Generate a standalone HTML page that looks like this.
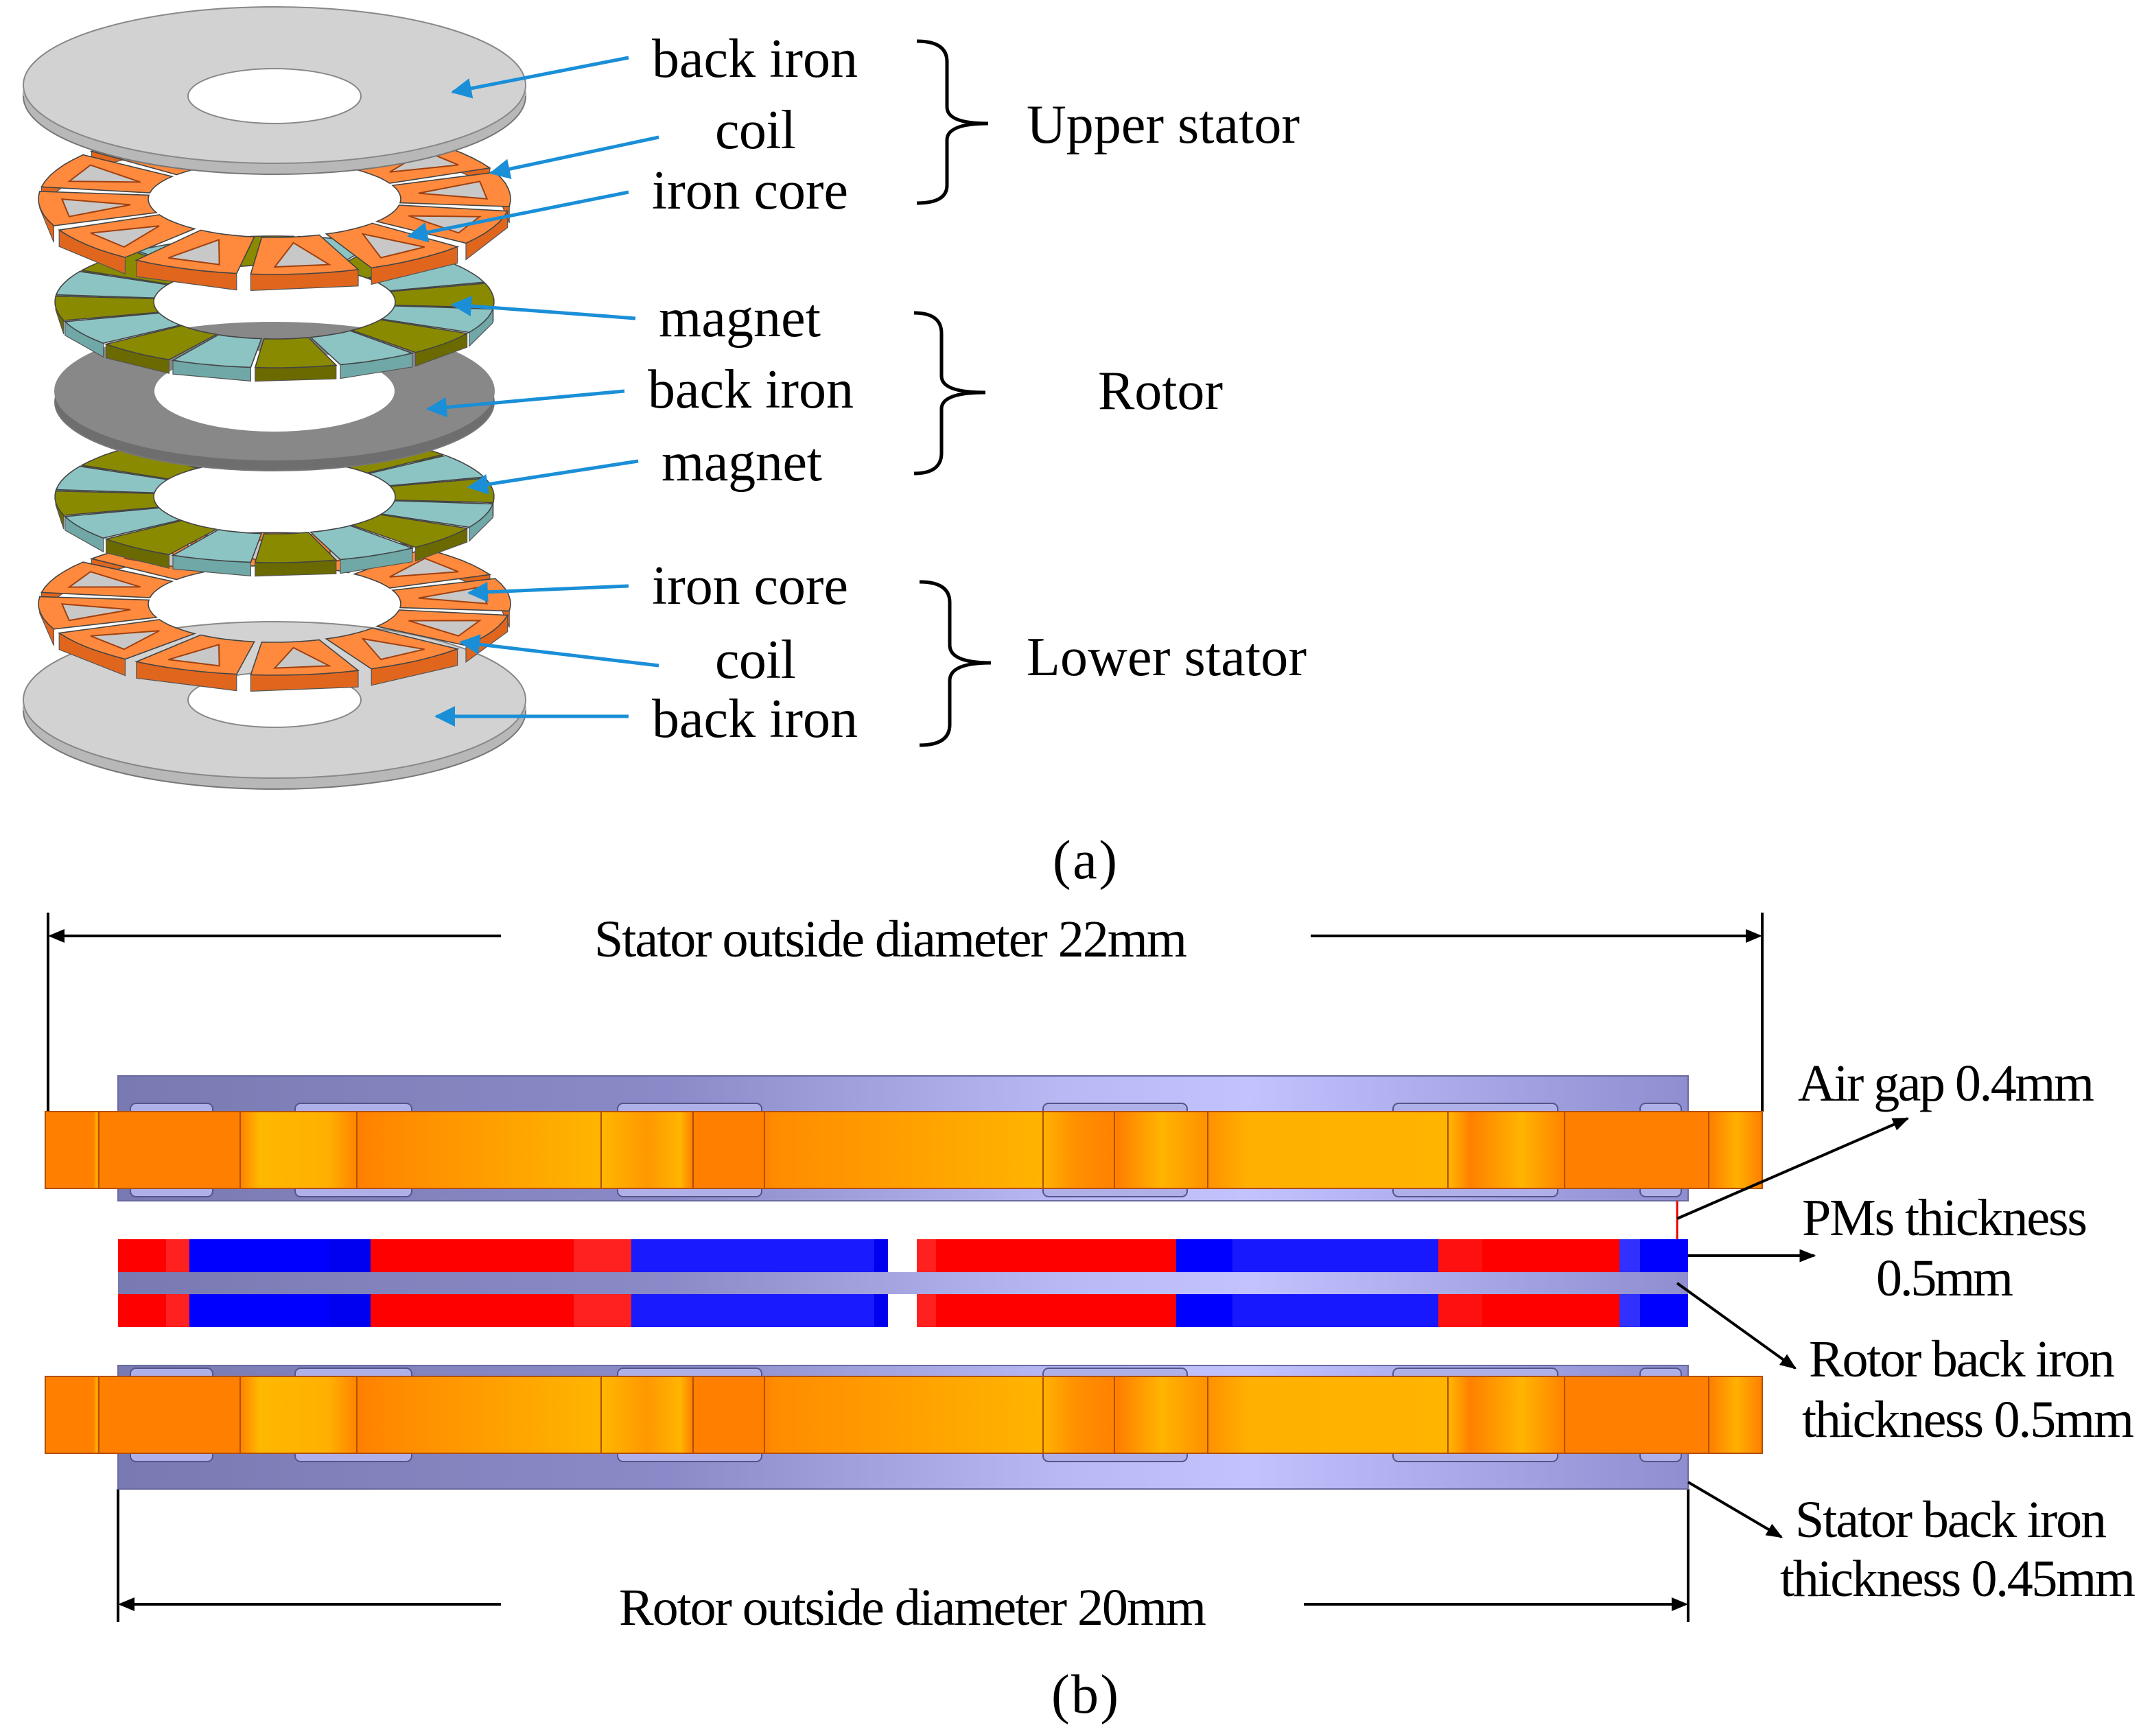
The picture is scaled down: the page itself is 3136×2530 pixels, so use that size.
<!DOCTYPE html>
<html><head><meta charset="utf-8"><style>
html,body{margin:0;padding:0;background:#fff}
svg{display:block}
text{font-family:"Liberation Serif",serif;fill:#000}
</style></head><body>
<svg id="s" width="3136" height="2530" viewBox="0 0 1568 1265" xmlns="http://www.w3.org/2000/svg">
<defs>
<linearGradient id="bi" gradientUnits="userSpaceOnUse" x1="86" y1="0" x2="1230" y2="0">
<stop offset="0" stop-color="#7a7ab2"/><stop offset="0.35" stop-color="#8a8ac8"/><stop offset="0.6" stop-color="#b8b8f4"/><stop offset="0.72" stop-color="#c2c2ff"/><stop offset="1" stop-color="#8e8ed0"/></linearGradient>
<linearGradient id="co" gradientUnits="userSpaceOnUse" x1="33" y1="0" x2="1284" y2="0">
<stop offset="0" stop-color="#ff8000"/><stop offset="0.028" stop-color="#ff8000"/><stop offset="0.03" stop-color="#ffb000"/><stop offset="0.031" stop-color="#ff8000"/>
<stop offset="0.113" stop-color="#ff8000"/><stop offset="0.125" stop-color="#ffb800"/><stop offset="0.165" stop-color="#ffb000"/><stop offset="0.183" stop-color="#ff8000"/>
<stop offset="0.2" stop-color="#ff8a00"/><stop offset="0.325" stop-color="#ffb600"/><stop offset="0.35" stop-color="#ff9800"/><stop offset="0.37" stop-color="#ffb400"/><stop offset="0.377" stop-color="#ff8000"/><stop offset="0.418" stop-color="#ff8000"/>
<stop offset="0.425" stop-color="#ff8c00"/><stop offset="0.58" stop-color="#ffb400"/><stop offset="0.6" stop-color="#ff9000"/><stop offset="0.625" stop-color="#ff8000"/><stop offset="0.65" stop-color="#ffb400"/><stop offset="0.677" stop-color="#ff9000"/>
<stop offset="0.7" stop-color="#ffb000"/><stop offset="0.818" stop-color="#ffb400"/><stop offset="0.83" stop-color="#ff8000"/><stop offset="0.86" stop-color="#ffb400"/><stop offset="0.886" stop-color="#ff8000"/>
<stop offset="0.97" stop-color="#ff8000"/><stop offset="0.985" stop-color="#ffb000"/><stop offset="1" stop-color="#ff8000"/></linearGradient>
<marker id="ab" viewBox="0 0 10 10" refX="9" refY="5" markerWidth="6" markerHeight="6" orient="auto"><path d="M0,0L10,5L0,10z" fill="#1a8fd8"/></marker>
<marker id="ak" viewBox="0 0 10 10" refX="9" refY="5" markerWidth="6" markerHeight="6" orient="auto"><path d="M0,1L10,5L0,9z" fill="#000"/></marker>
</defs>
<g id="a"></g>
<g font-size="40">
<text x="475" y="56" textLength="150">back iron</text><text x="521" y="108" textLength="59">coil</text><text x="475" y="152" textLength="143">iron core</text>
<text x="480" y="245" textLength="118">magnet</text><text x="472" y="297" textLength="150">back iron</text><text x="482" y="350" textLength="117">magnet</text>
<text x="475" y="440" textLength="143">iron core</text><text x="521" y="494" textLength="59">coil</text><text x="475" y="537" textLength="150">back iron</text>
<text x="748" y="104" textLength="199">Upper stator</text><text x="800" y="298" textLength="91">Rotor</text><text x="748" y="492" textLength="204">Lower stator</text>
<text x="767" y="640" textLength="47">(a)</text><text x="766" y="1248" textLength="49">(b)</text>
</g>
<g stroke="#000" stroke-width="2.5" fill="none">
<path d="M668,30 Q690,30 690,45 L690,78 Q690,90 720,90 Q690,90 690,102 L690,135 Q690,148 668,148"/>
<path d="M666,228 Q686,228 686,243 L686,274 Q686,286 718,286 Q686,286 686,298 L686,330 Q686,345 666,345"/>
<path d="M670,424 Q692,424 692,439 L692,470 Q692,483 722,483 Q692,483 692,496 L692,528 Q692,543 670,543"/>
</g>
<g stroke="#1a8fd8" stroke-width="2.5" marker-end="url(#ab)">
<line x1="458" y1="42" x2="330" y2="67"/><line x1="480" y1="100" x2="358" y2="126"/><line x1="458" y1="140" x2="298" y2="172"/>
<line x1="463" y1="232" x2="330" y2="222"/><line x1="455" y1="285" x2="312" y2="298"/><line x1="465" y1="336" x2="342" y2="355"/>
<line x1="458" y1="427" x2="342" y2="432"/><line x1="480" y1="485" x2="336" y2="468"/><line x1="458" y1="522" x2="318" y2="522"/>
</g>
<g stroke="#000" stroke-width="2" fill="none">
<line x1="35" y1="665" x2="35" y2="810"/><line x1="1284" y1="665" x2="1284" y2="810"/>
<line x1="37" y1="682" x2="365" y2="682"/>
<line x1="955" y1="682" x2="1282" y2="682"/>
<line x1="86" y1="1085" x2="86" y2="1182"/><line x1="1230" y1="1085" x2="1230" y2="1182"/>
<line x1="88" y1="1169" x2="365" y2="1169"/><line x1="950" y1="1169" x2="1228" y2="1169"/>
</g>
<g fill="#000">
<path d="M35,682l12,-5v10z"/><path d="M1284,682l-12,-5v10z"/>
<path d="M86,1169l12,-5v10z"/><path d="M1230,1169l-12,-5v10z"/>
</g>
<g font-size="38">
<text x="433" y="697" textLength="432">Stator outside diameter 22mm</text>
<text x="451" y="1184" textLength="428">Rotor outside diameter 20mm</text>
<text x="1310" y="802" textLength="216">Air gap 0.4mm</text>
<text x="1313" y="900" textLength="208">PMs thickness</text><text x="1367" y="944" textLength="100">0.5mm</text>
<text x="1318" y="1003" textLength="223">Rotor back iron</text><text x="1313" y="1047" textLength="242">thickness 0.5mm</text>
<text x="1308" y="1120" textLength="227">Stator back iron</text><text x="1297" y="1163" textLength="259">thickness 0.45mm</text>
</g>
<g id="b"></g>
<line x1="1222" y1="875" x2="1222" y2="903" stroke="#e00" stroke-width="1.5"/>
<g stroke="#000" stroke-width="2" marker-end="url(#ak)">
<line x1="1222" y1="888" x2="1390" y2="815"/><line x1="1230" y1="915" x2="1322" y2="915"/>
<line x1="1222" y1="935" x2="1308" y2="997"/><line x1="1230" y1="1080" x2="1298" y2="1120"/>
</g>
</svg>
<script>
var NS="http://www.w3.org/2000/svg";
function el(p,t,a){var e=document.createElementNS(NS,t);for(var k in a)e.setAttribute(k,a[k]);p.appendChild(e);return e;}
var A=document.getElementById('a'),B=document.getElementById('b');
function pt(cx,cy,R,r,a){return (cx+R*Math.cos(a)).toFixed(1)+","+(cy+r*Math.sin(a)).toFixed(1);}
function disc(cy,R,r,hR,hr,th,fill,side,dy){
 dy=dy||0;
 el(A,'ellipse',{cx:200,cy:cy+th,rx:R,ry:r,fill:side,stroke:"#777","stroke-width":1});
 el(A,'rect',{x:200-R,y:cy,width:2*R,height:th,fill:side});
 el(A,'ellipse',{cx:200,cy:cy,rx:R,ry:r,fill:fill,stroke:"#888","stroke-width":1});
 el(A,'ellipse',{cx:200,cy:cy+dy,rx:hR,ry:hr,fill:"#fff",stroke:"#888","stroke-width":1});
}
function sectors(cy,R,r,iR,ir,n,cols,th,gap,tri){
 var list=[];for(var i=0;i<n;i++){var a0=i*2*Math.PI/n+Math.PI/n*0.5,a1=a0+2*Math.PI/n;list.push([a0,a1,i]);}
 list.sort(function(p,q){return Math.sin((p[0]+p[1])/2)-Math.sin((q[0]+q[1])/2);});
 list.forEach(function(s){
  var a0=s[0]+gap,a1=s[1]-gap,c=cols[s[2]%cols.length];
  var d="M"+pt(200,cy+th,R,r,a0)+" L"+pt(200,cy+th,R,r,a1)+" L"+pt(200,cy,R,r,a1)+" L"+pt(200,cy,R,r,a0)+"Z";
  el(A,'path',{d:d,fill:c[1],stroke:"#555","stroke-width":0.6});
  var pts=[];for(var k=0;k<=6;k++)pts.push(pt(200,cy,R,r,a0+(a1-a0)*k/6));
  for(var k=6;k>=0;k--)pts.push(pt(200,cy,iR,ir,a0+(a1-a0)*k/6));
  el(A,'polygon',{points:pts.join(" "),fill:c[0],stroke:"#444","stroke-width":0.8});
  if(tri){var m=(a1-a0)*0.22;var q=[pt(200,cy,R*0.9,r*0.9,a0+m),pt(200,cy,R*0.9,r*0.9,a1-m),pt(200,cy,iR*1.15,ir*1.15,(a0+a1)/2)];
   el(A,'polygon',{points:q.join(" "),fill:"#c8c8c8",stroke:"#a04010","stroke-width":1});}
 });
}
var mag=[["#8cc4c4","#70a8a8"],["#8a8a00","#6a6a00"]];
var coil=[["#ff8a3d","#e0661e"]];
disc(510,183,57,63,20,8,"#d2d2d2","#b8b8b8");
sectors(440,172,52,92,28,12,coil,12,0.03,true);
sectors(362,160,48,88,27,16,mag,10,0.01,false);
disc(285,160,50,88,30,8,"#888","#6e6e6e");
sectors(220,160,48,88,27,16,mag,10,0.01,false);
sectors(145,172,55,92,28,12,coil,12,0.03,true);
disc(62,183,57,63,20,8,"#d2d2d2","#b8b8b8",8);

function stator(by,bh,cy){
 el(B,'rect',{x:86,y:by,width:1144,height:bh,fill:"url(#bi)",stroke:"#6a6aa0","stroke-width":1});
 [[95,155],[215,300],[450,555],[760,865],[1015,1135],[1195,1225]].forEach(function(s){
  el(B,'rect',{x:s[0],y:cy-6,width:s[1]-s[0],height:68,fill:"#b0b0e8",stroke:"#55558a","stroke-width":1,rx:4});});
 el(B,'rect',{x:33,y:cy,width:1251,height:56,fill:"url(#co)",stroke:"#b05000","stroke-width":1});
 [72,175,260,438,505,557,760,812,880,1055,1140,1245].forEach(function(x){
  el(B,'line',{x1:x,y1:cy,x2:x,y2:cy+56,stroke:"#b05000","stroke-width":1});});
}
stator(784,91,810);
stator(995,90,1003);
el(B,'rect',{x:86,y:927,width:1144,height:16,fill:"url(#bi)"});
var segs=[[86,121,"#ff0000"],[121,138,"#ff2020"],[138,240,"#0000ff"],[240,270,"#0000f0"],[270,418,"#ff0000"],[418,460,"#ff2020"],[460,637,"#1a1aff"],[637,647,"#0000ee"],
[668,682,"#ff2020"],[682,857,"#ff0000"],[857,898,"#0000ff"],[898,1048,"#1818ff"],[1048,1080,"#ff1010"],[1080,1180,"#ff0000"],[1180,1195,"#3030ff"],[1195,1230,"#0000ff"]];
segs.forEach(function(s){
 el(B,'rect',{x:s[0],y:903,width:s[1]-s[0],height:24,fill:s[2]});
 el(B,'rect',{x:s[0],y:943,width:s[1]-s[0],height:24,fill:s[2]});
});
el(B,'rect',{x:647,y:903,width:21,height:24,fill:"#fff"});
el(B,'rect',{x:647,y:943,width:21,height:24,fill:"#fff"});
</script>
</body></html>
